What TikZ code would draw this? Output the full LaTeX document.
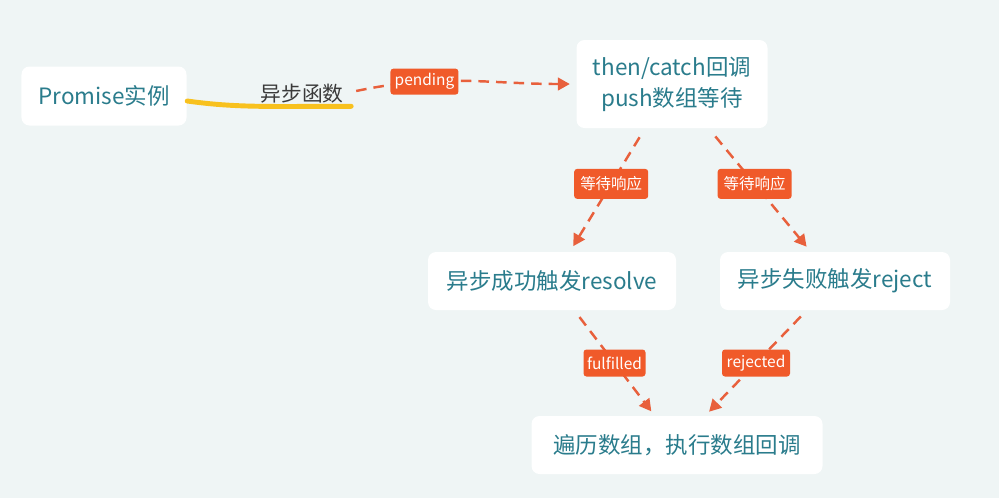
\documentclass[tikz,border=0pt]{standalone}
\usepackage{fontspec}
\setmainfont{Noto Sans CJK SC}
\usetikzlibrary{shapes,arrows.meta}

\definecolor{bgmint}{RGB}{239,245,245}
\definecolor{tealtext}{RGB}{42,124,140}
\definecolor{tagred}{RGB}{240,90,42}
\definecolor{flowred}{RGB}{232,96,60}
\definecolor{gold}{RGB}{248,193,30}
\definecolor{labelgray}{RGB}{58,58,58}

\tikzset{
  box/.style={fill=white, rounded corners=0.08cm, text=tealtext, align=center, inner sep=0,
    font=\fontsize{6.4}{8.8}\selectfont},
  tag/.style={fill=tagred, rounded corners=0.03cm, text=white, inner sep=0,
    font=\fontsize{4.4}{5.2}\selectfont},
  flow/.style={flowred, line width=0.7pt, dash pattern=on 3pt off 2pt,
    -{Triangle[length=3.4pt,width=3.6pt]}},
}

\begin{document}
\begin{tikzpicture}
  %background
  \fill[bgmint] (0,0) rectangle (9.99,4.98);

  %boxes
  \node[box, minimum width=1.65cm, minimum height=0.59cm] (pr) at (1.04,4.02) {Promise实例};
  \node[box, minimum width=1.91cm, minimum height=0.88cm] (cb) at (6.72,4.14) {then/catch回调\\push数组等待};
  \node[box, minimum width=2.48cm, minimum height=0.58cm] (ok) at (5.52,2.17) {异步成功触发resolve};
  \node[box, minimum width=2.30cm, minimum height=0.58cm] (ng) at (8.35,2.17) {异步失败触发reject};
  \node[box, minimum width=2.91cm, minimum height=0.58cm] (done) at (6.77,0.53) {遍历数组，执行数组回调};

  %async function label
  \node[text=labelgray, inner sep=0.02cm, font=\fontsize{5.9}{7}\selectfont] (fn) at (3.02,4.04) {异步函数};
  \draw[gold, line width=1.4pt, line cap=round] ([yshift=-0.05cm]pr.east)
    .. controls +(0.5,-0.07) and +(-0.8,0) .. ([xshift=0.05cm]fn.south east);

  %pending
  \draw[flow, shorten >=0.06cm] ([xshift=0.1cm,yshift=0.03cm]fn.east) to[out=12,in=180]
    node[tag, pos=0.3, minimum width=0.68cm, minimum height=0.26cm] {pending} (cb.west);

  %waiting
  \draw[flow, shorten <=0.1cm, shorten >=0.06cm] (cb) --
    node[tag, pos=0.45, minimum width=0.74cm, minimum height=0.30cm] {等待响应} (ok);
  \draw[flow, shorten <=0.1cm, shorten >=0.06cm] (cb) --
    node[tag, pos=0.45, minimum width=0.74cm, minimum height=0.30cm] {等待响应} (ng);

  %settled
  \draw[flow, shorten <=0.08cm, shorten >=0.05cm] (ok) --
    node[tag, pos=0.5, minimum width=0.62cm, minimum height=0.27cm] {fulfilled} (done);
  \draw[flow, shorten <=0.08cm, shorten >=0.05cm] (ng) --
    node[tag, pos=0.5, minimum width=0.68cm, minimum height=0.27cm] {rejected} (done);

\end{tikzpicture}
\end{document}
